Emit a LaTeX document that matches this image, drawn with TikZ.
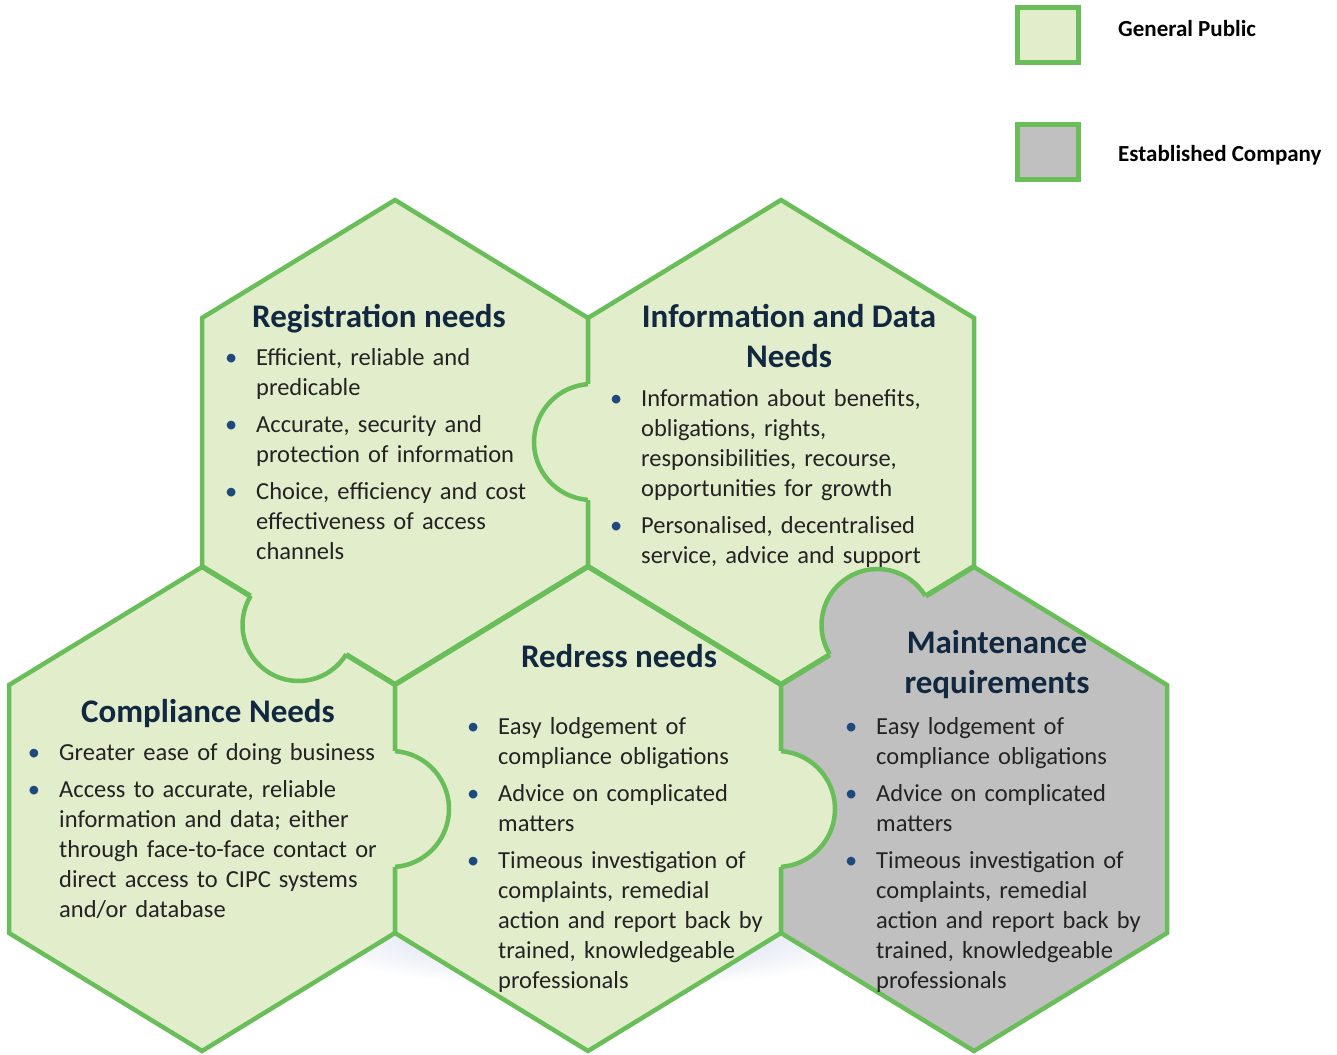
\documentclass[tikz,border=0pt]{standalone}
\usepackage{fontspec}
\setmainfont{Carlito}
\usetikzlibrary{positioning}

\definecolor{hexline}{RGB}{106,190,90}
\definecolor{hexgreen}{RGB}{226,237,204}
\definecolor{hexgray}{RGB}{192,192,192}
\definecolor{titlenavy}{RGB}{17,40,64}
\definecolor{bodytext}{RGB}{35,35,35}
\definecolor{bulletblue}{RGB}{31,73,125}
\definecolor{shadowblue}{RGB}{196,206,228}

\tikzset{
  hexedge/.style={draw=hexline,line width=4.5pt,line join=miter},
  publichex/.style={hexedge,fill=hexgreen},
  companyhex/.style={hexedge,fill=hexgray},
  needtitle/.style={font=\bfseries\fontsize{33}{40}\selectfont,text=titlenavy,
    align=center,inner sep=0pt,anchor=base},
  needbody/.style={font=\fontsize{24.5}{30}\selectfont,text=bodytext,
    text width=340pt,align=left,inner sep=0pt,anchor=base west,
    execute at begin node={\setlength{\parskip}{7pt}}},
  keybox/.style={draw=hexline,line width=5pt,minimum width=61pt,
    minimum height=55pt,inner sep=0pt},
  keytext/.style={font=\bfseries\fontsize{23}{28}\selectfont,inner sep=0pt}
}

% hexagon around centre (#2,#3)
\newcommand{\needhex}[3]{%
  \draw[#1] (#2,#3-242) -- (#2+193,#3-124) -- (#2+193,#3+124) -- (#2,#3+242)
    -- (#2-193,#3+124) -- (#2-193,#3-124) -- cycle;}

% round tab: centre, radius, arc from/to, fill
\newcommand{\needtab}[6]{%
  \fill[#6] (#1,#2) circle[radius=#3];
  \draw[hexedge] ([shift={(#4:#3)}]#1,#2) arc[start angle=#4,end angle=#5,radius=#3];}

\newcommand{\needitem}[1]{\leavevmode\llap{\textcolor{bulletblue}{\textbullet}\hspace{19pt}}#1\par}

\begin{document}
\begin{tikzpicture}[x=1pt,y=-1pt]
  \useasboundingbox (0,0) rectangle (1337,1054);

  % soft shadow under the lower row
  \shade[inner color=shadowblue,outer color=white] (590,938) ellipse[x radius=290,y radius=50];

  % honeycomb
  \needhex{publichex}{395}{442}
  \needhex{publichex}{781}{442}
  \needhex{publichex}{202}{809}
  \needhex{publichex}{588}{809}
  \needhex{companyhex}{974}{809}

  % puzzle tabs
  \needtab{592}{442}{58}{94}{266}{hexgreen}
  \needtab{298.5}{625}{56}{31.45}{211.45}{hexgreen}
  \needtab{391}{809}{58}{-86}{86}{hexgreen}
  \needtab{777}{809}{58}{-86}{86}{hexgreen}
  \needtab{877.5}{625}{56}{148.55}{328.55}{hexgray}

  % registration
  \node (regtitle) [needtitle] at (379,327) {Registration needs};
  \node (regbody) [needbody] at (256,365) {%
    \needitem{Efficient, reliable and\\predicable}
    \needitem{Accurate, security and\\protection of information}
    \needitem{Choice, efficiency and cost\\effectiveness of access\\channels}};

  % information and data
  \node (infotitle) [needtitle] at (789,367) {Information and Data\\Needs};
  \node (infobody) [needbody] at (641,406) {%
    \needitem{Information about benefits,\\obligations, rights,\\responsibilities, recourse,\\opportunities for growth}
    \needitem{Personalised, decentralised\\service, advice and support}};

  % compliance
  \node (comptitle) [needtitle] at (208,722) {Compliance Needs};
  \node (compbody) [needbody] at (59,760) {%
    \needitem{Greater ease of doing business}
    \needitem{Access to accurate, reliable\\information and data; either\\through face-to-face contact or\\direct access to CIPC systems\\and/or database}};

  % redress
  \node (redtitle) [needtitle] at (619,667) {Redress needs};
  \node (redbody) [needbody] at (498,734) {%
    \needitem{Easy lodgement of\\compliance obligations}
    \needitem{Advice on complicated\\matters}
    \needitem{Timeous investigation of\\complaints, remedial\\action and report back by\\trained, knowledgeable\\professionals}};

  % maintenance
  \node (maintitle) [needtitle] at (997,693) {Maintenance\\requirements};
  \node (mainbody) [needbody] at (876,734) {%
    \needitem{Easy lodgement of\\compliance obligations}
    \needitem{Advice on complicated\\matters}
    \needitem{Timeous investigation of\\complaints, remedial\\action and report back by\\trained, knowledgeable\\professionals}};

  % legend
  \node (pubkey) [keybox,fill=hexgreen] at (1048,35) {};
  \node (pubtext) [keytext,right=37pt of pubkey,yshift=6pt] {General Public};
  \node (estkey) [keybox,fill=hexgray] at (1048,152) {};
  \node (esttext) [keytext,right=37pt of estkey,yshift=-3pt] {Established Company};
\end{tikzpicture}
\end{document}
